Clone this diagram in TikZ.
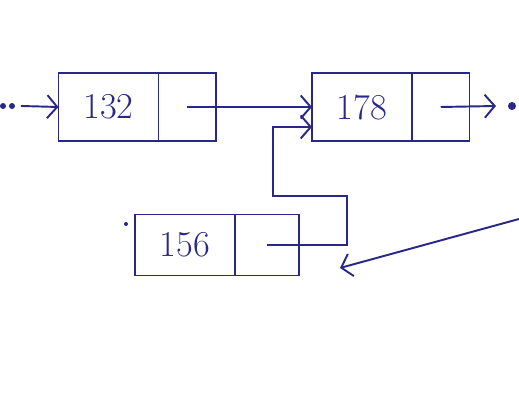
\documentclass[tikz,border=0pt]{standalone}
\usepackage{tikz}
\usetikzlibrary{positioning,arrows.meta}
\definecolor{ink}{RGB}{40,40,135}

\begin{document}
\begin{tikzpicture}
[node distance=0pt, font=\huge, ink, line width=1.1pt]

\tikzstyle{data}=[rectangle, draw, outer sep=0pt, minimum width=2cm, minimum height=1.36cm]
\tikzstyle{ptr}=[rectangle, draw, outer sep=0pt, minimum width=1.15cm, minimum height=1.36cm]
\tikzstyle{link}=[-{Straight Barb[length=2mm, width=4.6mm]}]
\tikzstyle{spot}=[circle, fill, inner sep=0mm, minimum size=1.2mm]

\useasboundingbox (0,0) rectangle (10.38,8);

\node[data]	(d132)	at (2.17,5.86)	{132};
\node[ptr]	(p132)		[right=of d132]	{};
\node[data]	(d178)	at (7.24,5.86)	{178};
\node[ptr]	(p178)		[right=of d178]	{};
\node[data, minimum height=1.22cm]	(d156)	at (3.70,3.10)	{156};
\node[ptr, minimum height=1.22cm, minimum width=1.28cm]	(p156)	[right=of d156]	{};

\node[spot]	(s0)	at (0.06,5.88)	{};
\node[spot]	(s1)	at (0.24,5.88)	{};
\coordinate	(head)	at (0.42,5.88);
\coordinate	(tail)	at (9.92,5.88);
\node[spot, minimum size=1.6mm]	(nil)	at (10.24,5.88)	{};
\node[spot, minimum size=0.8mm]	(speck)	at (2.52,3.52)	{};

\coordinate	(c1)	at (6.94,4.08);
\coordinate	(c2)	at (5.46,5.46);
\coordinate	(far)	at (10.38,3.62);
\coordinate	(tip)	at (6.80,2.64);

\draw [link] (head) -- (d132.west);
\draw [link] (p132.center) -- (d178.west);
\draw [link] (p178.center) -- (tail);
\draw [link] (p156.center) -| (c1) -| (c2) -- (c2 -| d178.west);
\draw [link] (far) -- (tip);
\end{tikzpicture}
\end{document}
